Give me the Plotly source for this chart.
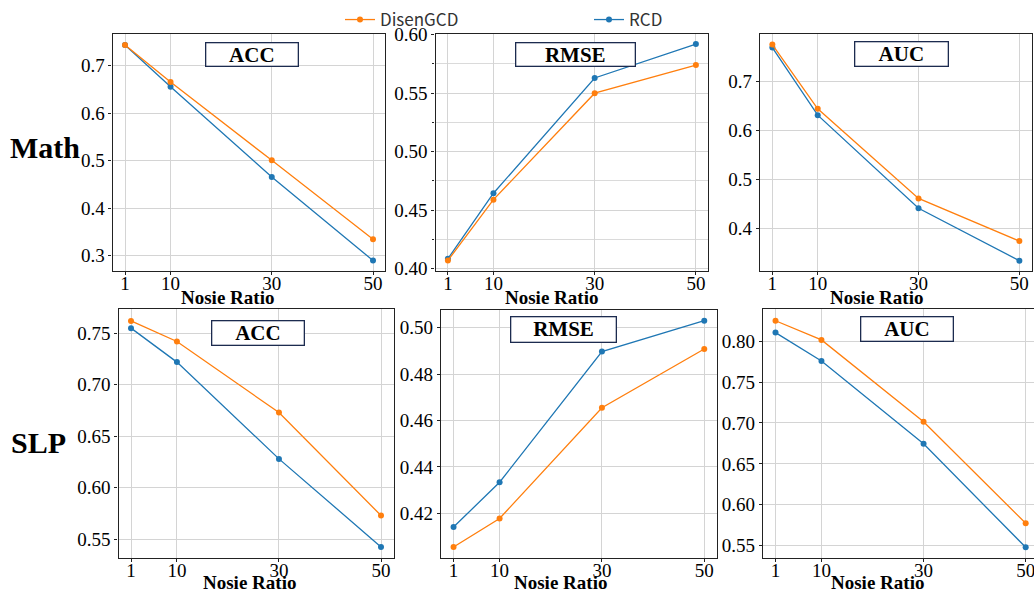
import plotly.graph_objects as go

W, H = 1034, 596

noise_ratio = [1, 10, 30, 50]
x_ticks = [1, 10, 30, 50]

math_acc_disen = [0.744, 0.666, 0.501, 0.335]
math_acc_rcd = [0.744, 0.656, 0.466, 0.290]
math_rmse_disen = [0.407, 0.459, 0.550, 0.574]
math_rmse_rcd = [0.4085, 0.4645, 0.563, 0.592]
math_auc_disen = [0.775, 0.644, 0.461, 0.374]
math_auc_rcd = [0.769, 0.631, 0.441, 0.334]
slp_acc_disen = [0.762, 0.742, 0.673, 0.573]
slp_acc_rcd = [0.755, 0.722, 0.628, 0.5425]
slp_rmse_disen = [0.4055, 0.4178, 0.4655, 0.4908]
slp_rmse_rcd = [0.4141, 0.4334, 0.4897, 0.503]
slp_auc_disen = [0.825, 0.8016, 0.7016, 0.5774]
slp_auc_rcd = [0.8105, 0.7759, 0.6745, 0.548]

panel_titles = ["ACC", "RMSE", "AUC", "ACC", "RMSE", "AUC"]
row_labels = ["Math", "SLP"]
series_names = ["DisenGCD", "RCD"]

ORANGE = "#ff7f0e"
BLUE = "#1f77b4"

panels = [
    dict(d=math_acc_disen, r=math_acc_rcd, xd=(112.6, 385.4), yd=(34, 271), xr=(-1.45, 52.45),
         yr=(0.268, 0.767), tv=[0.3, 0.4, 0.5, 0.6, 0.7], fmt="{:.1f}", minor=None,
         box=(251.5, 54, 93, 24.6), xl=(227, 297)),
    dict(d=math_rmse_disen, r=math_rmse_rcd, xd=(435.5, 708.3), yd=(34, 271), xr=(-1.45, 52.45),
         yr=(0.398, 0.6006), tv=[0.40, 0.45, 0.50, 0.55, 0.60], fmt="{:.2f}", minor=0.025,
         box=(575.7, 54, 120, 24.6), xl=(551.7, 297)),
    dict(d=math_auc_disen, r=math_auc_rcd, xd=(760, 1031.7), yd=(34, 271), xr=(-1.45, 52.45),
         yr=(0.3129, 0.7966), tv=[0.4, 0.5, 0.6, 0.7], fmt="{:.1f}", minor=None,
         box=(901.3, 54.3, 94, 25), xl=(876, 297)),
    dict(d=slp_acc_disen, r=slp_acc_rcd, xd=(118.5, 393.5), yd=(309.3, 557.7), xr=(-1.45, 52.45),
         yr=(0.532, 0.7733), tv=[0.55, 0.60, 0.65, 0.70, 0.75], fmt="{:.2f}", minor=None,
         box=(257.7, 333.2, 93.3, 25.7), xl=(249.5, 582)),
    dict(d=slp_rmse_disen, r=slp_rmse_rcd, xd=(441, 716.8), yd=(310, 557.7), xr=(-1.45, 52.45),
         yr=(0.4009, 0.5076), tv=[0.42, 0.44, 0.46, 0.48, 0.50], fmt="{:.2f}", minor=None,
         box=(563.5, 329.7, 106.4, 26), xl=(560, 582)),
    dict(d=slp_auc_disen, r=slp_auc_rcd, xd=(763, 1034), yd=(309.3, 557.7), xr=(-1.45, 51.63),
         yr=(0.5353, 0.839), tv=[0.55, 0.60, 0.65, 0.70, 0.75, 0.80], fmt="{:.2f}", minor=None,
         box=(907.3, 329.3, 93.3, 25.3), xl=(877.5, 582), noright=True),
]

SERIF = "Liberation Serif, Times New Roman, serif"
fig = go.Figure()
layout = dict(
    template="none",
    width=W, height=H, margin=dict(l=0, r=0, t=0, b=0, pad=0), autosize=False,
    paper_bgcolor="white", plot_bgcolor="white",
    font=dict(family=SERIF, size=18, color="black"),
)
annotations = []

for i, p in enumerate(panels, start=1):
    sfx = "" if i == 1 else str(i)
    xa, ya = "x" + sfx, "y" + sfx
    fig.add_trace(go.Scatter(
        x=noise_ratio, y=p["r"], mode="lines+markers", name=series_names[1],
        line=dict(color=BLUE, width=1.3), marker=dict(color=BLUE, size=6),
        xaxis=xa, yaxis=ya, showlegend=(i == 1), legendrank=2, cliponaxis=False))
    fig.add_trace(go.Scatter(
        x=noise_ratio, y=p["d"], mode="lines+markers", name=series_names[0],
        line=dict(color=ORANGE, width=1.3), marker=dict(color=ORANGE, size=6),
        xaxis=xa, yaxis=ya, showlegend=(i == 1), legendrank=1, cliponaxis=False))

    x0, x1 = p["xd"]
    y0, y1 = p["yd"]
    layout["xaxis" + sfx] = dict(
        domain=[x0 / W, min(x1 / W, 1.0)], range=list(p["xr"]), anchor=ya, automargin=False,
        tickvals=x_ticks, ticktext=[str(t) for t in x_ticks],
        showgrid=True, gridcolor="#d4d4d4", gridwidth=1, zeroline=False,
        showline=True, linecolor="#222", linewidth=1.3, mirror=True,
        ticks="outside", ticklen=3, tickcolor="#222", ticklabelstandoff=-8,
        ticklabeloverflow="allow",
        tickfont=dict(family=SERIF, size=19, color="black"))
    ydict = dict(
        domain=[1 - y1 / H, 1 - y0 / H], range=list(p["yr"]), anchor=xa, automargin=False,
        tickvals=p["tv"], ticktext=[p["fmt"].format(v) for v in p["tv"]],
        showgrid=True, gridcolor="#d4d4d4", gridwidth=1, zeroline=False,
        showline=True, linecolor="#222", linewidth=1.3,
        mirror=(False if p.get("noright") else True),
        ticks="outside", ticklen=3, tickcolor="#222",
        tickfont=dict(family=SERIF, size=19, color="black"))
    if p["minor"]:
        ydict["minor"] = dict(dtick=p["minor"], tick0=p["tv"][0], ticks="outside", ticklen=2,
                              tickcolor="#222", showgrid=True, gridcolor="#dadada", gridwidth=1)
    layout["yaxis" + sfx] = ydict

    bx, by, bw, bh = p["box"]
    annotations.append(dict(
        text="<b>%s</b>" % panel_titles[i - 1], xref="paper", yref="paper",
        x=bx / W, y=1 - by / H, xanchor="center", yanchor="middle", showarrow=False,
        width=bw - 2, height=bh - 2, borderpad=0, bordercolor="#1c2b4f", borderwidth=1.3,
        bgcolor="white", font=dict(family=SERIF, size=21, color="black")))
    lx, ly = p["xl"]
    annotations.append(dict(
        text="<b>Nosie Ratio</b>", xref="paper", yref="paper", x=lx / W, y=1 - ly / H,
        xanchor="center", yanchor="middle", showarrow=False,
        font=dict(family=SERIF, size=19, color="black")))

annotations.append(dict(text="<b>%s</b>" % row_labels[0], xref="paper", yref="paper",
                        x=45 / W, y=1 - 148 / H, xanchor="center", yanchor="middle",
                        showarrow=False, font=dict(family=SERIF, size=30, color="black")))
annotations.append(dict(text="<b>%s</b>" % row_labels[1], xref="paper", yref="paper",
                        x=38 / W, y=1 - 442.5 / H, xanchor="center", yanchor="middle",
                        showarrow=False, font=dict(family=SERIF, size=30, color="black")))

layout["annotations"] = annotations
layout["legend"] = dict(
    orientation="h", x=340 / W, y=1 - 2 / H, xanchor="left", yanchor="top",
    entrywidth=204, entrywidthmode="pixels", bgcolor="rgba(0,0,0,0)",
    font=dict(family="Noto Sans CJK SC, Noto Sans, sans-serif", size=17, color="#333"),
    traceorder="normal")
fig.update_layout(**layout)
fig.write_html("out.html", config={"displayModeBar": False},
               post_script="document.body.style.margin='0';")
